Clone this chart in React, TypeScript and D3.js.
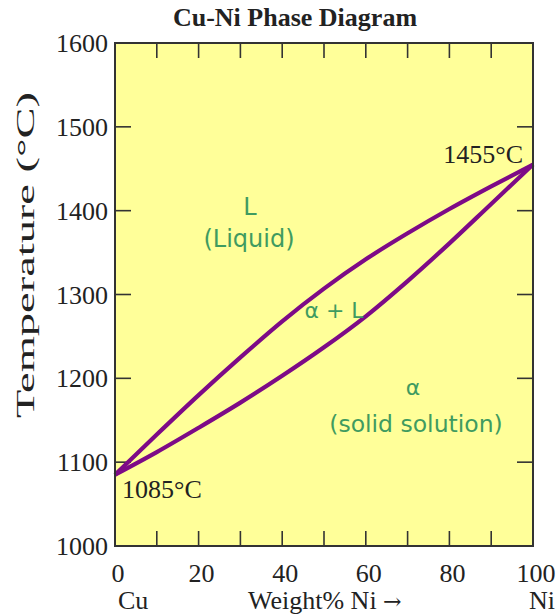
import React from "react";
import * as d3 from "d3";

const compositions = [0, 10, 20, 30, 40, 50, 60, 70, 80, 90, 100];
const liquidus = [1085, 1133, 1180, 1225, 1268, 1307, 1342, 1373, 1402, 1429, 1455];
const solidus = [1085, 1112, 1141, 1171, 1203, 1237, 1274, 1316, 1361, 1408, 1455];
const xTickLabels = [0, 20, 40, 60, 80, 100];
const yTickLabels = [1000, 1100, 1200, 1300, 1400, 1500, 1600];
const xMinorTicks = [10, 20, 30, 40, 50, 60, 70, 80, 90];
const yInnerTicks = [1100, 1200, 1300, 1400, 1500];

const W = 560;
const H = 616;
const L = 115, T = 43, R = 533, B = 546;
const SERIF = "'Liberation Serif', 'Times New Roman', serif";
const SANS = "'DejaVu Sans', sans-serif";
const GREEN = "#3f9b60";
const PURPLE = "#7d0a87";

export default function App() {
  const x = d3.scaleLinear().domain([0, 100]).range([L, R]);
  const y = d3.scaleLinear().domain([1000, 1600]).range([B, T]);
  const line = d3
    .line<number>()
    .x((_, i) => x(compositions[i]))
    .y((d) => y(d))
    .curve(d3.curveMonotoneX);

  return (
    <svg width={W} height={H} style={{ position: "absolute", left: 0, top: 0 }}>
      <rect x={0} y={0} width={W} height={H} fill="#fff" />
      <text x={295} y={26} textAnchor="middle" fontFamily={SERIF} fontWeight="bold" fontSize={26} fill="#222">
        Cu-Ni Phase Diagram
      </text>
      <rect x={L} y={T} width={R - L} height={B - T} fill="#ffff99" />
      {xMinorTicks.map((v) => (
        <g key={"xt" + v}>
          <line x1={x(v)} x2={x(v)} y1={B} y2={B - 15} stroke="#333" strokeWidth={1.6} />
          <line x1={x(v)} x2={x(v)} y1={T} y2={T + 15} stroke="#333" strokeWidth={1.6} />
        </g>
      ))}
      {yInnerTicks.map((v) => (
        <g key={"yt" + v}>
          <line x1={L} x2={L + 16} y1={y(v)} y2={y(v)} stroke="#333" strokeWidth={1.6} />
          <line x1={R} x2={R - 16} y1={y(v)} y2={y(v)} stroke="#333" strokeWidth={1.6} />
        </g>
      ))}
      <path d={line(liquidus) || ""} fill="none" stroke={PURPLE} strokeWidth={4.2} />
      <path d={line(solidus) || ""} fill="none" stroke={PURPLE} strokeWidth={4.2} />
      <rect x={L} y={T} width={R - L} height={B - T} fill="none" stroke="#333" strokeWidth={2} />
      {yTickLabels.map((v) => (
        <text key={"yl" + v} x={108} y={y(v) + 9} textAnchor="end" fontFamily={SERIF} fontSize={26} fill="#222">
          {v}
        </text>
      ))}
      {xTickLabels.map((v) => (
        <text key={"xl" + v} x={x(v) + 3} y={582} textAnchor="middle" fontFamily={SERIF} fontSize={26} fill="#222">
          {v}
        </text>
      ))}
      <text x={118} y={609} fontFamily={SERIF} fontSize={26} fill="#222">Cu</text>
      <text x={542} y={609} textAnchor="middle" fontFamily={SERIF} fontSize={26} fill="#222">Ni</text>
      <text x={248} y={609} fontFamily={SERIF} fontSize={26} fill="#222">
        Weight% Ni <tspan fontFamily="'DejaVu Serif', serif" fontSize={22}>→</tspan>
      </text>
      <text
        transform={`translate(34, 255) rotate(-90)`}
        textAnchor="middle"
        fontFamily={SERIF}
        fontSize={26}
        fill="#222"
        textLength={326}
        lengthAdjust="spacingAndGlyphs"
      >
        Temperature (°C)
      </text>
      <text x={122} y={498} fontFamily={SERIF} fontSize={26} fill="#222">1085°C</text>
      <text x={523} y={163} textAnchor="end" fontFamily={SERIF} fontSize={26} fill="#222">1455°C</text>
      <text x={250} y={215} textAnchor="middle" fontFamily={SANS} fontSize={24} fill={GREEN}>L</text>
      <text x={249} y={247} textAnchor="middle" fontFamily={SANS} fontSize={24} fill={GREEN}>(Liquid)</text>
      <text x={334} y={318} textAnchor="middle" fontFamily={SANS} fontSize={22} fill={GREEN}>α + L</text>
      <text x={413} y={395} textAnchor="middle" fontFamily={SANS} fontSize={22} fill={GREEN}>α</text>
      <text x={416} y={432} textAnchor="middle" fontFamily={SANS} fontSize={23.5} fill={GREEN}>(solid solution)</text>
    </svg>
  );
}
